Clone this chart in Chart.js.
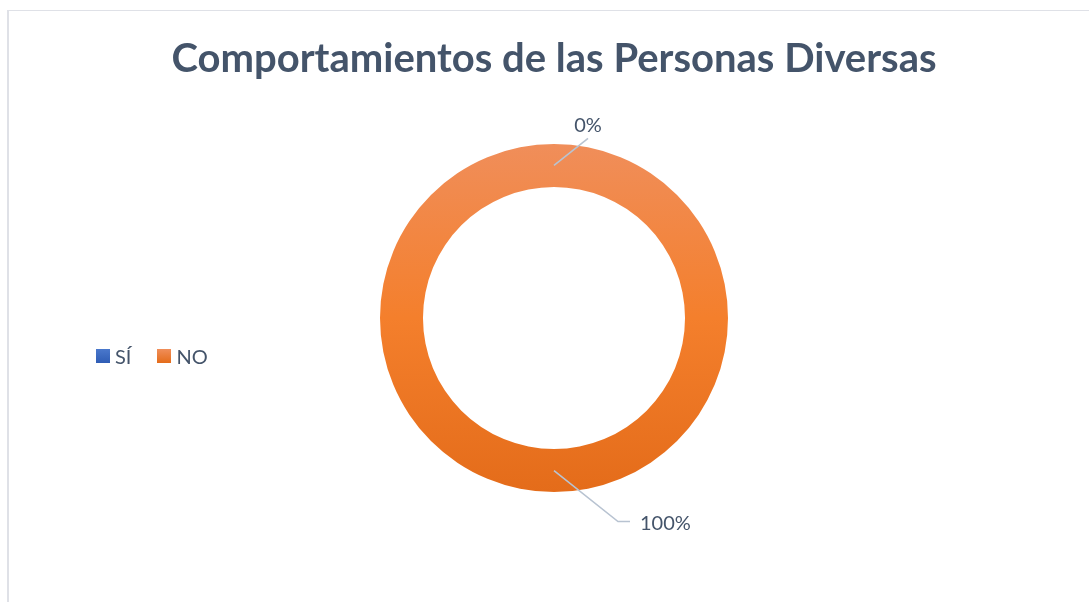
<!DOCTYPE html>
<html lang="es">
<head>
<meta charset="UTF-8">
<title>Comportamientos de las Personas Diversas</title>
<script src="https://cdn.jsdelivr.net/npm/chart.js"></script>
<style>
  html, body { margin: 0; padding: 0; background: #fff; }
  .marco {
    position: absolute; left: 7px; top: 10px; width: 1100px; height: 620px;
    border-left: 2px solid #dfe1e7; border-top: 1px solid #dfe1e7;
  }
  .grafico { position: absolute; left: 0; top: 0; width: 1089px; height: 602px; }
  .leyenda {
    position: absolute; left: 96px; top: 344px;
    font-family: Lato, "Open Sans", sans-serif; font-size: 20px; color: #44546a;
    display: flex; align-items: center;
  }
  .leyenda .item { display: flex; align-items: center; margin-right: 26px; }
  .leyenda .caja { width: 14px; height: 14px; margin-right: 5px; }
</style>
</head>
<body>
<div class="marco"></div>
<div class="grafico"><canvas id="dona"></canvas></div>
<div class="leyenda" id="leyenda"></div>

<script>
  // datos del grafico
  const categorias = ['SÍ', 'NO'];
  const valores = [0, 100];
  const coloresArriba = ['#4a78cc', '#f08e5a'];
  const coloresMedio = ['#3f6fc6', '#f47f2c'];
  const coloresAbajo = ['#2f5db5', '#e46c1a'];

  const titulo = 'Comportamientos de las Personas Diversas';
  const colorTexto = '#44546a';

  // leyenda en html, horizontal a la izquierda
  const leyenda = document.getElementById('leyenda');
  categorias.forEach((cat, i) => {
    const item = document.createElement('div');
    item.className = 'item';
    item.innerHTML = `<span class="caja" style="background:linear-gradient(${coloresArriba[i]},${coloresAbajo[i]})"></span><span>${cat}</span>`;
    leyenda.appendChild(item);
  });

  function degradado(ctx, i) {
    const area = ctx.chart.chartArea;
    if (!area) return coloresMedio[i];
    const g = ctx.chart.ctx.createLinearGradient(0, area.top, 0, area.bottom);
    g.addColorStop(0, coloresArriba[i]);
    g.addColorStop(0.5, coloresMedio[i]);
    g.addColorStop(1, coloresAbajo[i]);
    return g;
  }

  // etiquetas de porcentaje con linea guia
  const etiquetasGuia = {
    id: 'etiquetasGuia',
    afterDatasetsDraw(chart, args, opts) {
      const ctx = chart.ctx;
      const total = valores.reduce((a, b) => a + b, 0);
      const arcos = chart.getDatasetMeta(0).data;
      ctx.save();
      arcos.forEach((arco, i) => {
        const p = arco.getProps(['x', 'y', 'startAngle', 'endAngle', 'innerRadius', 'outerRadius'], true);
        const medio = (p.startAngle + p.endAngle) / 2;
        const r = (p.innerRadius + p.outerRadius) / 2;
        const x0 = p.x + Math.cos(medio) * r;
        const y0 = p.y + Math.sin(medio) * r;
        const guia = opts.guias[i];
        const x1 = x0 + guia.dx, y1 = y0 + guia.dy;
        ctx.strokeStyle = '#b8c3d1';
        ctx.lineWidth = 1.6;
        ctx.beginPath();
        ctx.moveTo(x0, y0);
        ctx.lineTo(x1, y1);
        if (guia.tramo) ctx.lineTo(x1 + guia.tramo, y1);
        ctx.stroke();
        const txt = Math.round(valores[i] / total * 100) + '%';
        ctx.fillStyle = colorTexto;
        ctx.font = '20px Lato, "Open Sans", sans-serif';
        if (guia.tramo) {
          ctx.textAlign = 'left';
          ctx.textBaseline = 'middle';
          ctx.fillText(txt, x1 + guia.tramo + 10, y1 + 2);
        } else {
          ctx.textAlign = 'center';
          ctx.textBaseline = 'bottom';
          ctx.fillText(txt, x1, y1 - 3);
        }
      });
      ctx.restore();
    }
  };

  new Chart(document.getElementById('dona'), {
    type: 'doughnut',
    data: {
      labels: categorias,
      datasets: [{
        data: valores,
        backgroundColor: ctx => degradado(ctx, ctx.dataIndex),
        borderWidth: 0
      }]
    },
    options: {
      responsive: true,
      maintainAspectRatio: false,
      animation: false,
      cutout: '75.3%',
      layout: { padding: { left: 19, right: 0, top: 0, bottom: 110 } },
      plugins: {
        legend: { display: false },
        tooltip: { enabled: false },
        title: {
          display: true,
          text: titulo,
          color: colorTexto,
          font: { family: 'Lato, "Open Sans", sans-serif', size: 40, weight: 'bold', lineHeight: 1.2 },
          padding: { top: 35, bottom: 61 }
        },
        etiquetasGuia: {
          guias: [
            { dx: 34, dy: -27 },
            { dx: 64, dy: 51, tramo: 12 }
          ]
        }
      }
    },
    plugins: [etiquetasGuia]
  });
</script>
</body>
</html>
